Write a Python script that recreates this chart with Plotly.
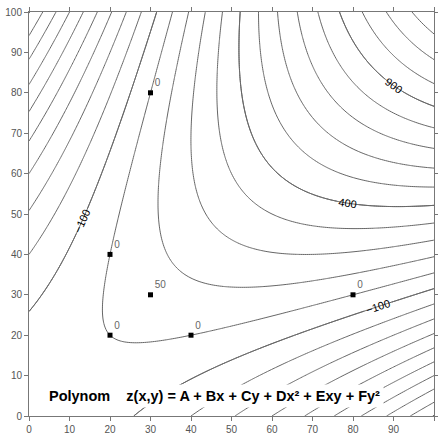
import numpy as np
import plotly.graph_objects as go

# data points (x, y, z)
px = [30, 20, 30, 20, 40, 80]
py = [80, 40, 30, 20, 20, 30]
pz = [0, 0, 50, 0, 0, 0]
x_ticks = [0, 10, 20, 30, 40, 50, 60, 70, 80, 90, 100]
y_ticks = [0, 10, 20, 30, 40, 50, 60, 70, 80, 90, 100]
labeled_levels = [-100, 400, 900]

# exact quadratic polynomial through the six points
Px = np.array(px, float); Py = np.array(py, float)
M = np.column_stack([np.ones(6), Px, Py, Px**2, Px*Py, Py**2])
A, B, C, D, E, F = np.linalg.solve(M, np.array(pz, float))
gx = np.linspace(0, 100, 201)
gy = np.linspace(0, 100, 201)
X, Y = np.meshgrid(gx, gy)
Z = A + B*X + C*Y + D*X**2 + E*X*Y + F*Y**2

grey = [[0, '#666666'], [1, '#666666']]
fig = go.Figure()
fig.add_trace(go.Contour(
    x=gx, y=gy, z=Z, showscale=False, colorscale=grey,
    contours=dict(coloring='lines', start=-3000, end=3000, size=100, showlabels=False),
    line=dict(width=1), hoverinfo='skip'))
for lv in labeled_levels:
    fig.add_trace(go.Contour(
        x=gx, y=gy, z=Z, showscale=False, colorscale=grey,
        contours=dict(coloring='lines', start=lv, end=lv, size=100, showlabels=True,
                      labelfont=dict(family='Liberation Sans, Arial', size=11, color='black')),
        line=dict(width=1), hoverinfo='skip'))
fig.add_trace(go.Scatter(
    x=px, y=py, mode='markers+text', text=[str(v) for v in pz], textposition='top right',
    marker=dict(symbol='square', size=5, color='black'),
    textfont=dict(family='Liberation Sans, Arial', size=10, color='#666'), hoverinfo='skip'))

fig.add_annotation(x=0.457, y=0.05, xref='paper', yref='paper', showarrow=False,
                   xanchor='center', yanchor='middle', bgcolor='white', borderpad=3,
                   text='<b>Polynom    z(x,y) = A + Bx + Cy + Dx² + Exy + Fy²</b>',
                   font=dict(family='Liberation Sans, Arial', size=14.5, color='black'))

axis_common = dict(showgrid=False, zeroline=False, showline=True, linecolor='#777', linewidth=1,
                   mirror='ticks', ticks='outside', ticklen=4, tickcolor='#777', automargin=False,
                   tickfont=dict(family='Liberation Sans, Arial', size=10, color='#555'))
fig.update_xaxes(range=[0, 100], tickvals=x_ticks, **axis_common)
fig.update_yaxes(range=[0, 100], tickvals=y_ticks, **axis_common)
fig.update_layout(width=438, height=434, margin=dict(l=29, r=4, t=12, b=18),
                  plot_bgcolor='white', paper_bgcolor='white', showlegend=False)
fig.write_html('out.html')
